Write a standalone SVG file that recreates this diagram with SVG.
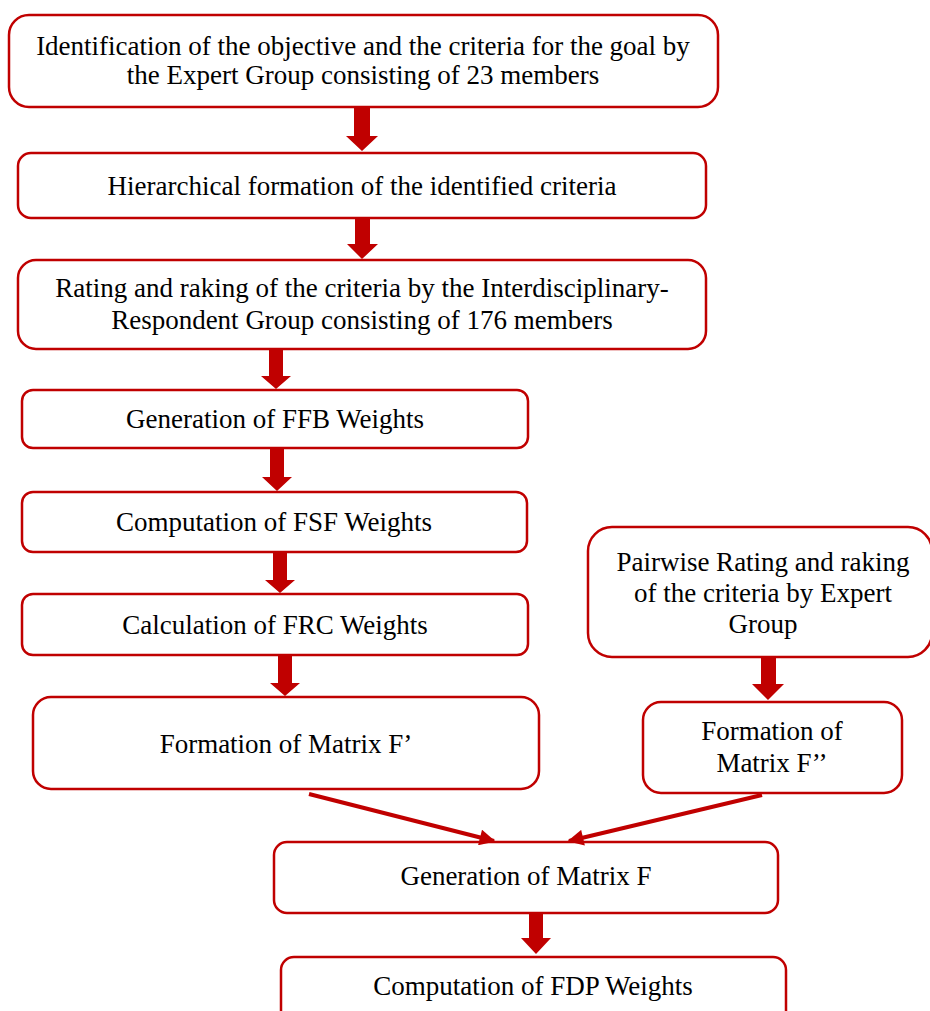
<svg xmlns="http://www.w3.org/2000/svg" width="930" height="1011" viewBox="0 0 930 1011">
  <style>
    .box { fill: #ffffff; stroke: #c00000; stroke-width: 2.5; }
    .lbl { font-family: "Liberation Serif", "Times New Roman", serif; font-size: 27px; fill: #000000; text-anchor: middle; }
    .blk { fill: #c00000; stroke: none; }
    .diag { stroke: #c00000; stroke-width: 4; fill: none; marker-end: url(#head); }
  </style>
  <defs>
    <marker id="head" viewBox="0 0 10 10" refX="9" refY="5" markerWidth="4.2" markerHeight="4" orient="auto" markerUnits="strokeWidth">
      <path d="M0,0 L10,5 L0,10 Z" fill="#c00000"/>
    </marker>
  </defs>

  <rect width="930" height="1011" fill="#ffffff"/>

  <g id="n1">
    <rect class="box" x="9" y="15" width="709" height="92" rx="20"/>
    <text class="lbl" x="363" y="55">Identification of the objective and the criteria for the goal by</text>
    <text class="lbl" x="363" y="84">the Expert Group consisting of 23 members</text>
  </g>

  <g id="n2">
    <rect class="box" x="18" y="153" width="688" height="65" rx="13"/>
    <text class="lbl" x="362" y="195">Hierarchical formation of the identified criteria</text>
  </g>

  <g id="n3">
    <rect class="box" x="18" y="260" width="688" height="89" rx="18"/>
    <text class="lbl" x="362" y="297">Rating and raking of the criteria by the Interdisciplinary-</text>
    <text class="lbl" x="362" y="329">Respondent Group consisting of 176 members</text>
  </g>

  <g id="n4">
    <rect class="box" x="22" y="390" width="506" height="58" rx="11"/>
    <text class="lbl" x="275" y="428">Generation of FFB Weights</text>
  </g>

  <g id="n5">
    <rect class="box" x="22" y="492" width="505" height="60" rx="11"/>
    <text class="lbl" x="274" y="531">Computation of FSF Weights</text>
  </g>

  <g id="n6">
    <rect class="box" x="22" y="594" width="506" height="61" rx="11"/>
    <text class="lbl" x="275" y="634">Calculation of FRC Weights</text>
  </g>

  <g id="n7">
    <rect class="box" x="33" y="697" width="506" height="92" rx="18"/>
    <text class="lbl" x="286" y="753">Formation of Matrix F’</text>
  </g>

  <g id="n8">
    <rect class="box" x="588" y="527" width="344" height="130" rx="24"/>
    <text class="lbl" x="763" y="571">Pairwise Rating and raking</text>
    <text class="lbl" x="763" y="602">of the criteria by Expert</text>
    <text class="lbl" x="763" y="633">Group</text>
  </g>

  <g id="n9">
    <rect class="box" x="643" y="702" width="259" height="91" rx="18"/>
    <text class="lbl" x="772" y="740">Formation of</text>
    <text class="lbl" x="772" y="772">Matrix F’’</text>
  </g>

  <g id="n10">
    <rect class="box" x="274" y="842" width="504" height="71" rx="13"/>
    <text class="lbl" x="526" y="885">Generation of Matrix F</text>
  </g>

  <g id="n11">
    <rect class="box" x="281" y="957" width="505" height="70" rx="13"/>
    <text class="lbl" x="533" y="995">Computation of FDP Weights</text>
  </g>

  <g id="connectors">
    <!-- block arrows: shaft then triangular head -->
    <path class="blk" d="M354,108 H370 V136 H378 L362,151 L346,136 H354 Z"/>
    <path class="blk" d="M355,218 H370 V244 H378 L362,259 L347,244 H355 Z"/>
    <path class="blk" d="M269,349 H283 V376 H291 L276,389 L261,376 H269 Z"/>
    <path class="blk" d="M270,448 H284 V477 H292 L277,491 L262,477 H270 Z"/>
    <path class="blk" d="M273,552 H287 V580 H295 L280,593 L265,580 H273 Z"/>
    <path class="blk" d="M278,655 H292 V683 H300 L285,696 L270,683 H278 Z"/>
    <path class="blk" d="M761,657 H776 V684 H784 L768,700 L752,684 H761 Z"/>
    <path class="blk" d="M529,913 H543 V938 H551 L536,954 L521,938 H529 Z"/>
    <!-- converging connectors into Matrix F -->
    <line class="diag" x1="309" y1="794" x2="494" y2="841"/>
    <line class="diag" x1="762" y1="795" x2="569" y2="841"/>
  </g>
</svg>
